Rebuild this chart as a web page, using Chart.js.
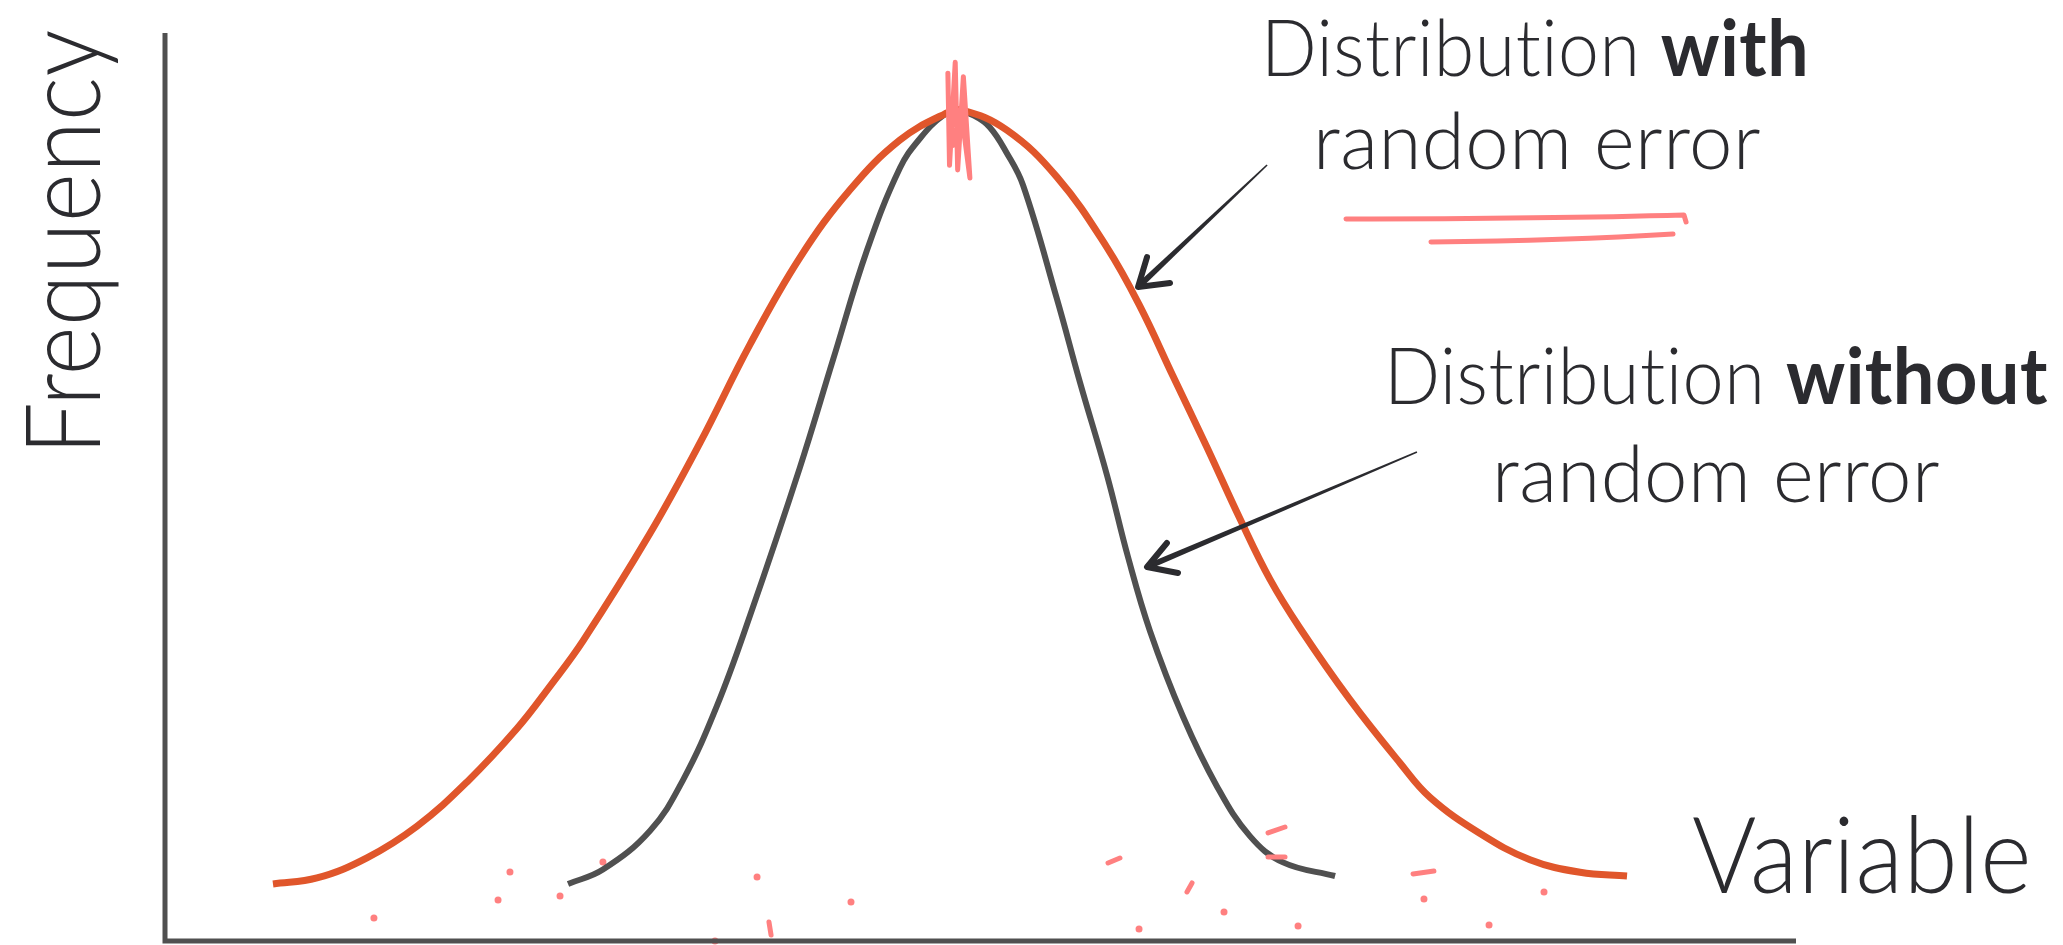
<!DOCTYPE html>
<html>
<head>
<meta charset="utf-8">
<script src="https://cdn.jsdelivr.net/npm/chart.js@4.4.1/dist/chart.umd.min.js"></script>
<style>
  html, body { margin: 0; padding: 0; background: #fff; }
</style>
</head>
<body>
<canvas id="chart" width="2063" height="945"></canvas>
<script>
// distribution with random error (orange, wide)
const withErrorX = [6.62, 9.32, 12.38, 15.45, 18.52, 21.58, 23.61, 25.63, 29.74, 32.80, 35.87, 38.93, 42.00, 45.06, 47.82, 48.87,
                    51.62, 54.69, 57.76, 59.78, 61.80, 63.89, 65.91, 67.75, 69.59, 72.65, 75.72, 77.56, 80.63, 83.69, 86.76, 89.64];
const withErrorY = [6.31, 6.97, 9.2, 12.7, 17.6, 23.5, 28.2, 33.2, 45.1, 55.1, 66.0, 75.6, 83.1, 88.6, 91.5, 91.92,
                    89.7, 84.5, 76.7, 70.2, 62.5, 54.6, 46.7, 40.0, 34.6, 26.7, 19.7, 15.9, 11.9, 9.0, 7.6, 7.19];

// distribution without random error (dark, narrow)
const withoutErrorX = [24.71, 26.85, 29.74, 31.76, 33.84, 35.87, 38.93, 40.96, 43.04, 45.06, 46.30, 47.70, 48.62,
                       49.60, 50.58, 51.60, 52.61, 54.69, 56.10, 57.76, 59.04, 60.39, 62.42, 64.50, 66.52, 68.55, 71.74];
const withoutErrorY = [6.31, 7.9, 12.2, 17.8, 26.0, 36.0, 52.4, 64.3, 76.4, 85.5, 88.8, 91.3, 91.81,
                       91.3, 90.0, 87.2, 83.6, 71.0, 61.8, 51.5, 42.5, 34.3, 24.8, 17.1, 11.6, 8.7, 7.19];

// scattered error marks near the baseline
const dotX = [12.81, 21.15, 20.42, 24.22, 26.85, 36.30, 42.06, 33.72, 64.93, 59.72, 69.47, 77.19, 81.18, 84.55];
const dotY = [2.54, 7.63, 4.54, 4.98, 8.74, 7.08, 4.31, 0.0, 3.21, 1.33, 1.66, 4.65, 1.77, 5.42];
const dashX1 = [37.03, 57.82, 62.66, 67.63, 67.63, 76.52];
const dashY1 = [2.10, 8.63, 5.42, 11.95, 9.29, 7.41];
const dashX2 = [37.16, 58.55, 62.97, 68.67, 68.67, 77.80];
const dashY2 = [0.66, 9.18, 6.42, 12.61, 9.29, 7.74];

// scribble over the peak
const scribbleX = [48.0, 48.1, 48.45, 48.6, 48.95, 49.35, 48.8, 48.3];
const scribbleY = [96.0, 85.8, 97.2, 85.3, 95.6, 84.4, 92.0, 88.0];

const textColor = '#2b2b2f';
const pink = '#ff8080';

function pts(xs, ys) {
    return xs.map((x, i) => ({ x: x, y: ys[i] }));
}

// draw text runs (light + bold), squeezed to a target width
function drawRuns(ctx, runs, cx, y, size, targetW, align) {
    ctx.letterSpacing = '0.5px'; // keeps "ti" from turning into a ligature
    const widths = runs.map(r => {
        ctx.font = r.w + ' ' + size + 'px Lato';
        return ctx.measureText(r.t).width;
    });
    const total = widths.reduce((a, b) => a + b, 0);
    const s = targetW ? targetW / total : 1;
    ctx.save();
    ctx.translate(cx, y);
    ctx.scale(s, 1);
    let x = align === 'left' ? 0 : -total / 2;
    ctx.textAlign = 'left';
    ctx.textBaseline = 'alphabetic';
    ctx.fillStyle = textColor;
    runs.forEach((r, i) => {
        ctx.font = r.w + ' ' + size + 'px Lato';
        ctx.fillText(r.t, x, 0);
        x += widths[i];
    });
    ctx.restore();
}

function drawArrow(ctx, x0, y0, x1, y1, b1x, b1y, b2x, b2y) {
    const dx = x1 - x0, dy = y1 - y0;
    const len = Math.hypot(dx, dy);
    const nx = -dy / len, ny = dx / len;
    ctx.fillStyle = textColor;
    ctx.beginPath();
    ctx.moveTo(x0 + nx * 0.8, y0 + ny * 0.8);
    ctx.lineTo(x1 + nx * 3, y1 + ny * 3);
    ctx.lineTo(x1 - nx * 3, y1 - ny * 3);
    ctx.lineTo(x0 - nx * 0.8, y0 - ny * 0.8);
    ctx.closePath();
    ctx.fill();
    ctx.strokeStyle = textColor;
    ctx.lineWidth = 6;
    ctx.lineCap = 'round';
    ctx.lineJoin = 'round';
    ctx.beginPath();
    ctx.moveTo(b1x, b1y);
    ctx.lineTo(x1, y1);
    ctx.lineTo(b2x, b2y);
    ctx.stroke();
}

const sketchPlugin = {
    id: 'sketch',
    afterDatasetsDraw(chart) {
        const ctx = chart.ctx;
        const xs = chart.scales.x, ys = chart.scales.y;
        const X = v => xs.getPixelForValue(v);
        const Y = v => ys.getPixelForValue(v);
        const area = chart.chartArea;
        ctx.save();

        // axes
        ctx.strokeStyle = '#505050';
        ctx.lineWidth = 5;
        ctx.lineCap = 'butt';
        ctx.beginPath();
        ctx.moveTo(area.left, area.top - 4);
        ctx.lineTo(area.left, area.bottom + 2.5);
        ctx.moveTo(area.left - 2.5, area.bottom);
        ctx.lineTo(area.right, area.bottom);
        ctx.stroke();

        // pink dashes
        ctx.strokeStyle = pink;
        ctx.lineWidth = 5;
        ctx.lineCap = 'round';
        for (let i = 0; i < dashX1.length; i++) {
            ctx.beginPath();
            ctx.moveTo(X(dashX1[i]), Y(dashY1[i]));
            ctx.lineTo(X(dashX2[i]), Y(dashY2[i]));
            ctx.stroke();
        }

        // scribble on the peak
        ctx.lineWidth = 5;
        ctx.lineJoin = 'round';
        ctx.beginPath();
        scribbleX.forEach((x, i) => {
            if (i === 0) ctx.moveTo(X(x), Y(scribbleY[i]));
            else ctx.lineTo(X(x), Y(scribbleY[i]));
        });
        ctx.stroke();

        // underlines
        ctx.lineWidth = 5;
        ctx.beginPath();
        ctx.moveTo(X(72.41), Y(79.87));
        ctx.quadraticCurveTo(X(85), Y(79.9), X(93.13), Y(80.31));
        ctx.lineTo(X(93.26), Y(79.54));
        ctx.moveTo(X(77.62), Y(77.32));
        ctx.quadraticCurveTo(X(86), Y(77.5), X(92.46), Y(78.21));
        ctx.stroke();

        // arrows
        drawArrow(ctx, X(67.57), Y(85.84), X(59.66), Y(72.35), X(60.21), Y(75.66), X(61.62), Y(72.79));
        drawArrow(ctx, X(76.76), Y(54.09), X(60.21), Y(41.37), X(61.43), Y(44.03), X(62.11), Y(40.71));

        // labels
        drawRuns(ctx, [{ t: 'Distribution ', w: '300' }, { t: 'with', w: '700' }], X(84.0), Y(95.69), 78, 548);
        drawRuns(ctx, [{ t: 'random error', w: '300' }], X(84.12), Y(85.40), 78, 448);
        drawRuns(ctx, [{ t: 'Distribution ', w: '300' }, { t: 'without', w: '700' }], X(95.09), Y(59.40), 78, 664);
        drawRuns(ctx, [{ t: 'random error', w: '300' }], X(95.09), Y(48.56), 78, 448);
        drawRuns(ctx, [{ t: 'Variable', w: '300' }], X(93.62), Y(5.31), 106, 340, 'left');

        ctx.save();
        ctx.translate(X(-3.99), Y(77.32));
        ctx.rotate(-Math.PI / 2);
        drawRuns(ctx, [{ t: 'Frequency', w: '300' }], 0, 0, 104, 426);
        ctx.restore();

        ctx.restore();
    }
};

new Chart(document.getElementById('chart'), {
    type: 'scatter',
    data: {
        datasets: [
            {
                label: 'Distribution with random error',
                data: pts(withErrorX, withErrorY),
                showLine: true,
                borderColor: '#e0562b',
                borderWidth: 7,
                pointRadius: 0,
                tension: 0.4,
                clip: false
            },
            {
                label: 'Distribution without random error',
                data: pts(withoutErrorX, withoutErrorY),
                showLine: true,
                borderColor: '#505050',
                borderWidth: 6,
                pointRadius: 0,
                tension: 0.4,
                clip: false
            },
            {
                label: 'marks',
                data: pts(dotX, dotY),
                showLine: false,
                pointRadius: 3.5,
                pointBackgroundColor: pink,
                pointBorderWidth: 0,
                clip: false
            }
        ]
    },
    options: {
        responsive: false,
        animation: false,
        devicePixelRatio: 1,
        layout: { padding: { left: 165, right: 267, top: 37, bottom: 4 } },
        scales: {
            x: { type: 'linear', min: 0, max: 100, display: false },
            y: { type: 'linear', min: 0, max: 100, display: false }
        },
        plugins: {
            legend: { display: false },
            tooltip: { enabled: false }
        }
    },
    plugins: [sketchPlugin]
});
</script>
</body>
</html>
